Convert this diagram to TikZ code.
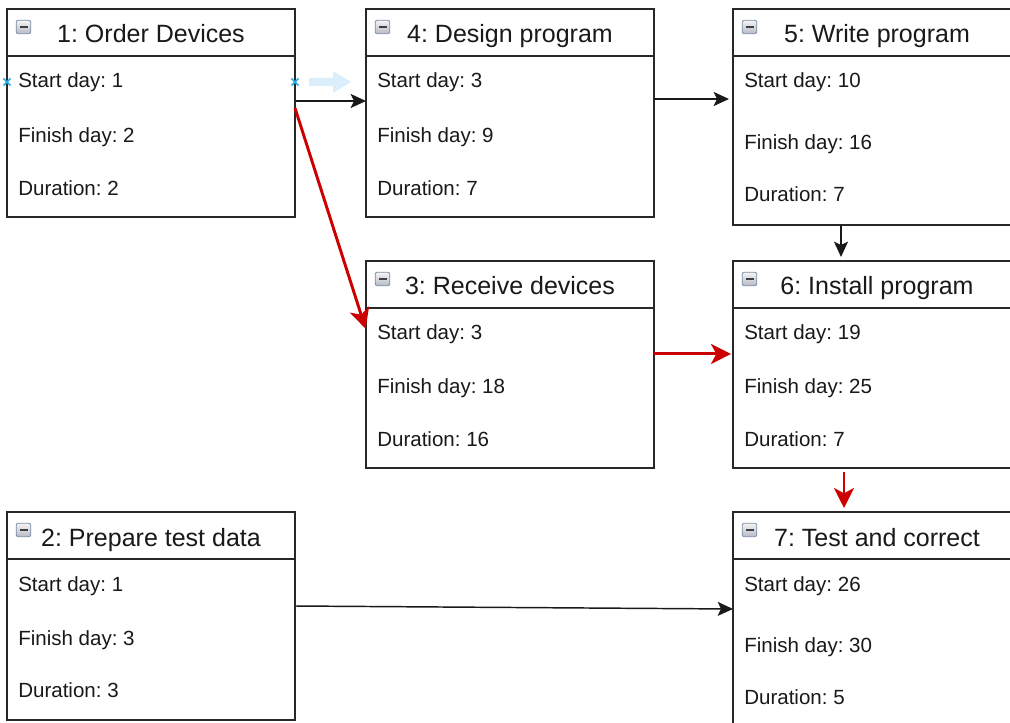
\documentclass[tikz,border=0pt]{standalone}
\usepackage{fontspec}
\setmainfont{Liberation Sans}
\usetikzlibrary{arrows.meta,calc}
\frenchspacing
\definecolor{linegray}{RGB}{40,40,40}
\definecolor{critred}{RGB}{204,0,0}
\definecolor{selblue}{RGB}{40,170,230}
\definecolor{ghostblue}{RGB}{218,238,251}
\definecolor{iconedge}{RGB}{120,140,165}
\tikzset{
  box/.style={draw=linegray, line width=1.1pt, fill=white, anchor=north west,
    minimum width=216pt, inner sep=0pt, outer sep=0pt},
  boxline/.style={draw=linegray, line width=1.1pt},
  icon/.style={draw=iconedge, line width=0.6pt, rounded corners=1.5pt,
    top color=gray!8, bottom color=blue!10!gray!50, minimum width=11pt,
    minimum height=10pt, inner sep=0pt},
  minusbar/.style={draw=black!75, line width=1.5pt},
  title/.style={font=\fontsize{18.75}{22}\selectfont, text=black!90, anchor=base, inner sep=0pt},
  body/.style={font=\fontsize{15.4}{18}\selectfont, text=black!90, anchor=base west, inner sep=0pt},
  blk/.style={draw=black!90, line width=1.1pt, -{Stealth[length=11.5pt,width=10.5pt,inset=2.5pt]}},
  crit/.style={draw=critred, line width=2.2pt, -{Stealth[length=15pt,width=15pt,inset=4pt]}},
  selmark/.style={draw=selblue, line width=1.3pt},
}
% #1 name, #2 x, #3 y, #4 height (px), #5 title, #6 start, #7 finish, #8 duration, #9 finish-baseline offset
\newcommand\taskbox[9]{%
  \node[box, minimum height=#4*0.75pt] (#1) at (#2,#3) {};
  \draw[boxline] ($(#1.north west)+(0,47)$) -- ($(#1.north east)+(0,47)$);
  \node[icon] (#1-i) at (#2+16.5,#3+18) {};
  \draw[minusbar] ($(#1-i.center)+(-3pt,0)$) -- ($(#1-i.center)+(3pt,0)$);
  \node[title] (#1-h) at (#2+144,#3+34) {#5};
  \node[body] (#1-s) at (#2+11,#3+79) {Start day: #6};
  \node[body] (#1-f) at (#2+11,#3+#9) {Finish day: #7};
  \node[body] (#1-d) at (#2+11,#3+#9+52.5) {Duration: #8};
}
\begin{document}
\begin{tikzpicture}[x=0.75pt,y=-0.75pt]
\useasboundingbox (0,0) rectangle (1010,723);
\clip (0,0) rectangle (1010,723);

\taskbox{b1}{7}{9}{208}{1: Order Devices}{1}{2}{2}{134}
\taskbox{b4}{366}{9}{208}{4: Design program}{3}{9}{7}{134}
\taskbox{b5}{733}{9}{216}{5: Write program}{10}{16}{7}{140.5}
\taskbox{b3}{366}{261}{207}{3: Receive devices}{3}{18}{16}{133}
\taskbox{b6}{733}{261}{207}{6: Install program}{19}{25}{7}{133}
\taskbox{b2}{7}{512}{208}{2: Prepare test data}{1}{3}{3}{133}
\taskbox{b7}{733}{512}{216}{7: Test and correct}{26}{30}{5}{140}

% selection marks and ghost arrow
\draw[selmark] (3.5,78.5) -- (10.5,85.5) (3.5,85.5) -- (10.5,78.5);
\draw[selmark] (291.5,78.5) -- (298.5,85.5) (291.5,85.5) -- (298.5,78.5);
\fill[ghostblue] (309,78) -- (333,78) -- (333,71) -- (351,82) -- (333,93) -- (333,86) -- (309,86) -- cycle;

% connectors
\draw[blk] ([yshift=9pt]b1.east) -- ([yshift=9pt]b4.west);
\draw[crit, shorten >=1pt] ([yshift=3.75pt]b1.east) -- ([yshift=25.9pt]b3.west);
\draw[blk, shorten >=3pt] ([yshift=10.5pt]b4.east) -- ([yshift=13.5pt]b5.west);
\draw[blk, shorten >=3pt] ([xshift=-27pt]b5.south) -- ([xshift=-27pt]b6.north);
\draw[crit, shorten >=1.5pt] ([yshift=7.9pt]b3.east) -- ([yshift=7.9pt]b6.west);
\draw[crit, shorten <=3pt, shorten >=3pt] ([xshift=-24.75pt]b6.south) -- ([xshift=-24.75pt]b7.north);
\draw[blk] ([yshift=7.5pt]b2.east) -- ([yshift=8.25pt]b7.west);
\end{tikzpicture}
\end{document}
